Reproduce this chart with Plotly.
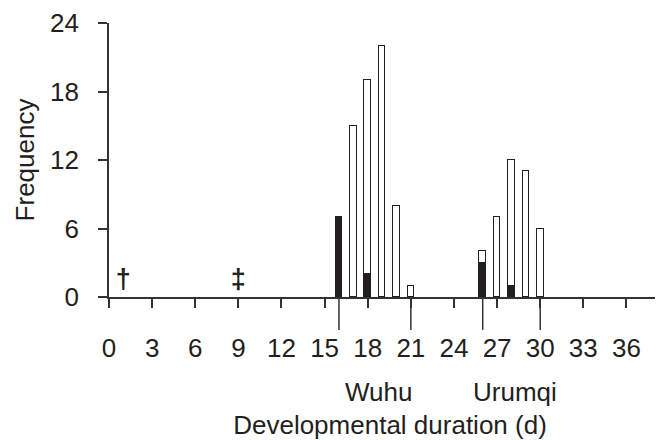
import plotly.graph_objects as go

# ---- data ----
days_wuhu = [16, 17, 18, 19, 20, 21]
total_wuhu = [7, 15, 19, 22, 8, 1]
black_wuhu = [7, 0, 2, 0, 0, 0]

days_urumqi = [26, 27, 28, 29, 30]
total_urumqi = [4, 7, 12, 11, 6]
black_urumqi = [3, 0, 1, 0, 0]

group_names = ["Wuhu", "Urumqi"]
group_ranges = [(16, 21), (26, 30)]

marker_days = [1, 9]
marker_symbols = ["\u2020", "\u2021"]
marker_level = [1.4, 1.4]

x_ticks = list(range(0, 37, 3))
y_ticks = [0, 6, 12, 18, 24]

# ---- build ----
days = days_wuhu + days_urumqi
black = black_wuhu + black_urumqi
total = total_wuhu + total_urumqi
white = [t - b for t, b in zip(total, black)]

INK = "#231f20"
AX = "#333333"
FONT = "Liberation Sans, Arial, sans-serif"
FS = 26

fig = go.Figure()
fig.add_trace(go.Bar(
    x=days, y=black, width=0.46,
    marker=dict(color=INK, line=dict(color=INK, width=1.4)),
    showlegend=False, hoverinfo="skip"))
fig.add_trace(go.Bar(
    x=days, y=white, width=0.46,
    marker=dict(color="white", line=dict(color=INK, width=1.4)),
    showlegend=False, hoverinfo="skip"))

fig.add_trace(go.Scatter(
    x=marker_days, y=marker_level, mode="text", text=marker_symbols,
    textfont=dict(family=FONT, size=27, color=INK, weight="bold"),
    cliponaxis=False, showlegend=False, hoverinfo="skip"))

shapes = []
for (a, b) in group_ranges:
    for d in (a, b):
        shapes.append(dict(type="line", xref="x", yref="paper",
                           x0=d, x1=d, y0=0, y1=-0.12,
                           line=dict(color=AX, width=1.5)))

annotations = []
for name, (a, b) in zip(group_names, group_ranges):
    annotations.append(dict(text=name, x=(a + b) / 2, xref="x", xshift=4,
                            y=-0.347, yref="paper", yanchor="middle",
                            xanchor="center", showarrow=False,
                            font=dict(family=FONT, size=FS, color=INK)))

fig.update_layout(
    width=663, height=440,
    margin=dict(l=101, r=0, t=15, b=151),
    paper_bgcolor="white", plot_bgcolor="white",
    barmode="stack", bargap=0,
    font=dict(family=FONT, size=FS, color=INK),
    shapes=shapes, annotations=annotations,
    xaxis=dict(range=[0, 39.1], tickvals=x_ticks, ticks="outside",
               ticklen=9, tickwidth=1.8, tickcolor=AX,
               showline=True, linecolor=AX, linewidth=1.8,
               showgrid=False, zeroline=False, automargin=False,
               ticklabelstandoff=18,
               tickfont=dict(family=FONT, size=FS, color=INK),
               title=dict(text="Developmental duration (d)", standoff=54,
                          font=dict(family=FONT, size=FS, color=INK))),
    yaxis=dict(range=[0, 24], tickvals=y_ticks, ticks="outside",
               ticklen=9, tickwidth=1.8, tickcolor=AX,
               showline=True, linecolor=AX, linewidth=1.8,
               showgrid=False, zeroline=False, automargin=False,
               ticklabelstandoff=14,
               tickfont=dict(family=FONT, size=FS, color=INK),
               title=dict(text="Frequency", standoff=8,
                          font=dict(family=FONT, size=FS, color=INK))),
)

fig.write_html("out.html")
